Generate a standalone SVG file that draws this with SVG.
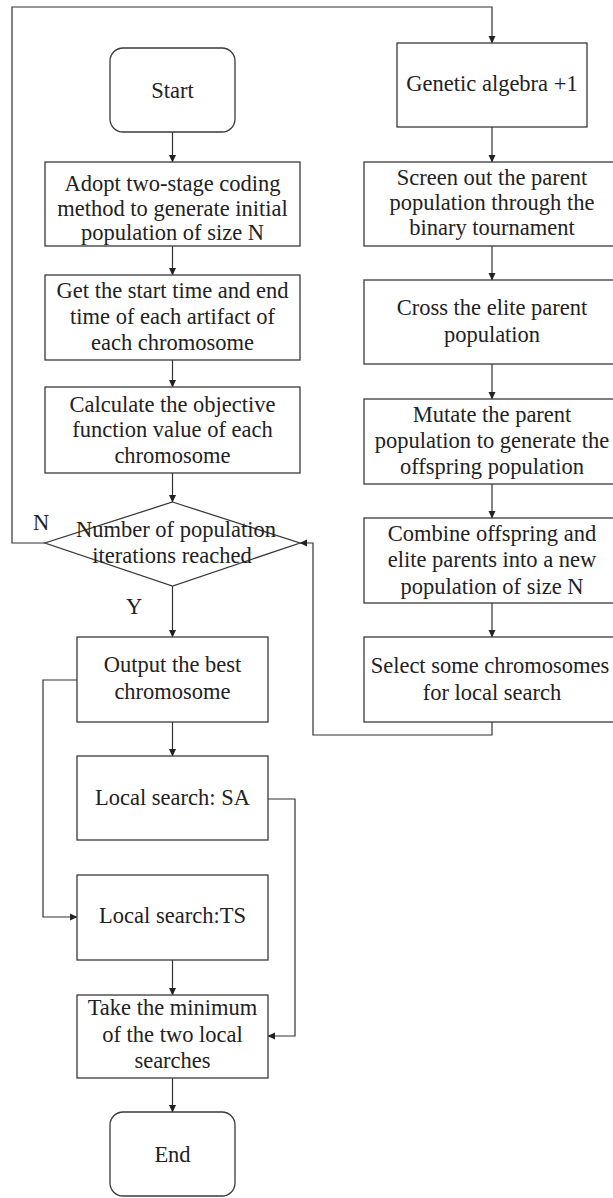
<svg xmlns="http://www.w3.org/2000/svg" width="613" height="1198" viewBox="0 0 613 1198">
<defs>
<marker id="arr" markerWidth="8" markerHeight="8" refX="7" refY="4" orient="auto" markerUnits="userSpaceOnUse">
<path d="M0,0.5 L7.5,4 L0,7.5 Z" fill="#222"/>
</marker>
</defs>
<style>
.box{fill:#fff;stroke:#3a3a3a;stroke-width:1.3}
.t{font-family:"Liberation Serif","Times New Roman",serif;font-size:22.5px;fill:#222;text-anchor:middle}
.c{fill:none;stroke:#333;stroke-width:1.2}
.a{fill:none;stroke:#333;stroke-width:1.2;marker-end:url(#arr)}
</style>
<rect width="613" height="1198" fill="#fff"/>
<g id="connectors">
<line class="a" x1="172.5" y1="132" x2="172.5" y2="162"/>
<line class="a" x1="172.5" y1="246" x2="172.5" y2="275"/>
<line class="a" x1="172.5" y1="360" x2="172.5" y2="387"/>
<line class="a" x1="172.5" y1="473" x2="172.5" y2="502"/>
<polyline class="a" points="45,543 12,543 12,7 492,7 492,43"/>
<line class="a" x1="492" y1="127" x2="492" y2="162"/>
<line class="a" x1="492" y1="246" x2="492" y2="280"/>
<line class="a" x1="492" y1="364" x2="492" y2="399"/>
<line class="a" x1="492" y1="484" x2="492" y2="518"/>
<line class="a" x1="492" y1="603" x2="492" y2="637"/>
<polyline class="a" points="492,722 492,735 313,735 313,543 300,543"/>
<line class="a" x1="172.5" y1="586" x2="172.5" y2="637"/>
<line class="a" x1="172.5" y1="722" x2="172.5" y2="756"/>
<polyline class="a" points="77,680 43,680 43,917 77,917"/>
<polyline class="a" points="268,799 295,799 295,1036 268,1036"/>
<line class="a" x1="172.5" y1="960" x2="172.5" y2="995"/>
<line class="a" x1="172.5" y1="1078" x2="172.5" y2="1112"/>
<text class="t" x="41" y="530">N</text>
<text class="t" x="134" y="614">Y</text>
</g>
<g id="start">
<rect class="box" x="110" y="48" width="125" height="84" rx="13"/>
<text class="t" x="172.5" y="98">Start</text>
</g>
<g id="init">
<rect class="box" x="45" y="162" width="255" height="84"/>
<text class="t" x="172.5" y="191">Adopt two-stage coding</text>
<text class="t" x="172.5" y="216">method to generate initial</text>
<text class="t" x="172.5" y="240">population of size N</text>
</g>
<g id="times">
<rect class="box" x="45" y="275" width="255" height="85"/>
<text class="t" x="172.5" y="298">Get the start time and end</text>
<text class="t" x="172.5" y="324">time of each artifact of</text>
<text class="t" x="172.5" y="350">each chromosome</text>
</g>
<g id="objective">
<rect class="box" x="45" y="387" width="255" height="86"/>
<text class="t" x="172.5" y="412">Calculate the objective</text>
<text class="t" x="172.5" y="437">function value of each</text>
<text class="t" x="172.5" y="463">chromosome</text>
</g>
<g id="decision">
<polygon class="box" points="172.5,502 300,543 172.5,586 45,543"/>
<text class="t" x="176" y="537">Number of population</text>
<text class="t" x="172" y="563">iterations reached</text>
</g>
<g id="genetic">
<rect class="box" x="397" y="43" width="190" height="84"/>
<text class="t" x="492" y="91">Genetic algebra +1</text>
</g>
<g id="screen">
<rect class="box" x="364" y="162" width="256" height="84"/>
<text class="t" x="492" y="185">Screen out the parent</text>
<text class="t" x="492" y="210">population through the</text>
<text class="t" x="492" y="235">binary tournament</text>
</g>
<g id="cross">
<rect class="box" x="364" y="280" width="256" height="84"/>
<text class="t" x="492" y="315">Cross the elite parent</text>
<text class="t" x="492" y="342">population</text>
</g>
<g id="mutate">
<rect class="box" x="364" y="399" width="256" height="85"/>
<text class="t" x="492" y="422">Mutate the parent</text>
<text class="t" x="492" y="448">population to generate the</text>
<text class="t" x="492" y="474">offspring population</text>
</g>
<g id="combine">
<rect class="box" x="364" y="518" width="256" height="85"/>
<text class="t" x="492" y="541">Combine offspring and</text>
<text class="t" x="492" y="567">elite parents into a new</text>
<text class="t" x="492" y="594">population of size N</text>
</g>
<g id="select">
<rect class="box" x="364" y="637" width="256" height="85"/>
<text class="t" x="490" y="673">Select some chromosomes</text>
<text class="t" x="492" y="700">for local search</text>
</g>
<g id="output">
<rect class="box" x="77" y="637" width="191" height="85"/>
<text class="t" x="172.5" y="672">Output the best</text>
<text class="t" x="172.5" y="699">chromosome</text>
</g>
<g id="sa">
<rect class="box" x="77" y="756" width="191" height="84"/>
<text class="t" x="172.5" y="805">Local search: SA</text>
</g>
<g id="ts">
<rect class="box" x="77" y="875" width="191" height="85"/>
<text class="t" x="172.5" y="923">Local search:TS</text>
</g>
<g id="minimum">
<rect class="box" x="77" y="995" width="191" height="83"/>
<text class="t" x="172.5" y="1015">Take the minimum</text>
<text class="t" x="172.5" y="1042">of the two local</text>
<text class="t" x="172.5" y="1068">searches</text>
</g>
<g id="end">
<rect class="box" x="110" y="1112" width="125" height="84" rx="13"/>
<text class="t" x="172.5" y="1162">End</text>
</g>
</svg>
